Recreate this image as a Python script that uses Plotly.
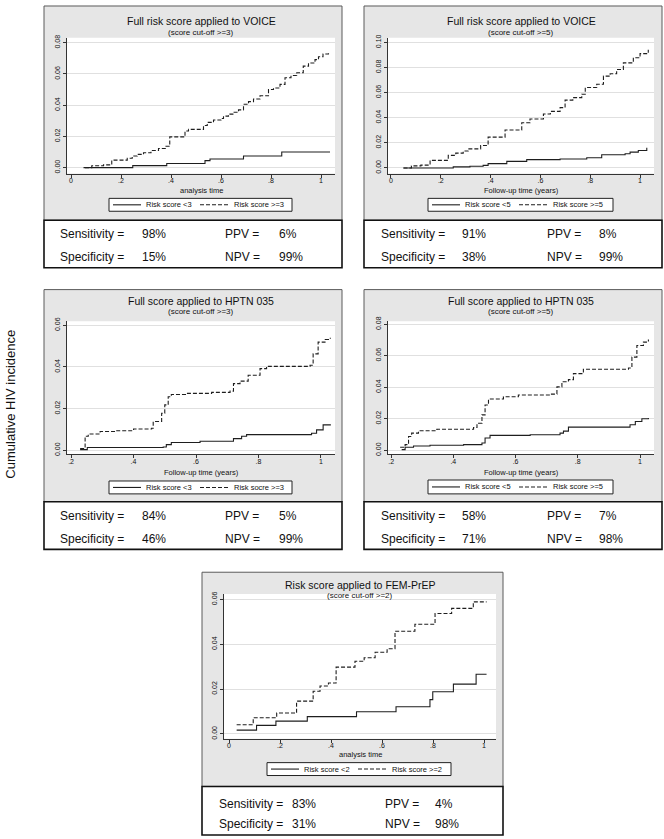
import plotly.graph_objects as go

# ---------------- data ----------------
# Panel 1: Full risk score applied to VOICE (cut-off >=3)
voice3_low_t = [0.05, 0.247, 0.383, 0.536, 0.556, 0.69, 0.843, 1.036]
voice3_low_v = [0.0, 0.0013, 0.0027, 0.0045, 0.0055, 0.0075, 0.0100, 0.0100]
voice3_high_t = [0.056, 0.083, 0.13, 0.163, 0.225, 0.245, 0.265, 0.29, 0.32, 0.35, 0.38, 0.395,
                 0.456, 0.47, 0.53, 0.545, 0.57, 0.6, 0.61, 0.63, 0.65, 0.67, 0.69, 0.71, 0.73,
                 0.756, 0.79, 0.81, 0.836, 0.856, 0.88, 0.903, 0.929, 0.95, 0.976, 0.99, 1.008, 1.03]
voice3_high_v = [0.0, 0.0012, 0.0018, 0.0048, 0.0060, 0.0075, 0.0085, 0.0095, 0.0110, 0.0123, 0.0137, 0.0197,
                 0.0235, 0.0245, 0.0270, 0.0290, 0.0305, 0.0315, 0.0330, 0.0343, 0.0355, 0.0370, 0.0406, 0.0423, 0.0440,
                 0.0460, 0.0500, 0.0510, 0.0533, 0.0576, 0.0590, 0.0608, 0.0650, 0.0670, 0.0692, 0.0710, 0.0728, 0.0740]

# Panel 2: Full risk score applied to VOICE (cut-off >=5)
voice5_low_t = [0.05, 0.25, 0.317, 0.37, 0.39, 0.465, 0.545, 0.679, 0.786, 0.846, 0.94, 0.96, 0.993, 1.027]
voice5_low_v = [0.0, 0.0008, 0.0013, 0.002, 0.0034, 0.0052, 0.0066, 0.0071, 0.0081, 0.0105, 0.0113, 0.0126, 0.0139, 0.016]
voice5_high_t = [0.05, 0.082, 0.12, 0.157, 0.23, 0.26, 0.29, 0.31, 0.36, 0.39, 0.458, 0.525, 0.558, 0.612,
                 0.64, 0.679, 0.699, 0.73, 0.766, 0.78, 0.826, 0.853, 0.88, 0.906, 0.933, 0.973, 1.0, 1.033]
voice5_high_v = [0.0, 0.0016, 0.0022, 0.006, 0.010, 0.0118, 0.0135, 0.0152, 0.0179, 0.0245, 0.0302, 0.036, 0.039, 0.0429,
                 0.045, 0.048, 0.054, 0.056, 0.0587, 0.064, 0.0666, 0.0731, 0.075, 0.0784, 0.0837, 0.0877, 0.091, 0.0942]

# Panel 3: Full score applied to HPTN 035 (cut-off >=3)
hptn3_low_t = [0.229, 0.252, 0.495, 0.505, 0.521, 0.613, 0.72, 0.746, 0.762, 0.97, 0.986, 1.007, 1.03]
hptn3_low_v = [0.0003, 0.0013, 0.0016, 0.0027, 0.0037, 0.0043, 0.0056, 0.0067, 0.0075, 0.0082, 0.0098, 0.0122, 0.0125]
hptn3_high_t = [0.229, 0.245, 0.255, 0.293, 0.341, 0.4, 0.458, 0.463, 0.49, 0.5, 0.511, 0.521, 0.57, 0.65,
                0.709, 0.72, 0.741, 0.767, 0.805, 0.826, 0.965, 0.975, 0.991, 1.013, 1.03]
hptn3_high_v = [0.0008, 0.0067, 0.0078, 0.009, 0.0094, 0.0102, 0.0106, 0.0138, 0.0178, 0.0218, 0.0257, 0.0268, 0.0273, 0.0278,
                0.0284, 0.032, 0.0332, 0.036, 0.0392, 0.0403, 0.0408, 0.0463, 0.0519, 0.0532, 0.054]

# Panel 4: Full score applied to HPTN 035 (cut-off >=5)
hptn5_low_t = [0.234, 0.245, 0.272, 0.325, 0.433, 0.492, 0.502, 0.518, 0.647, 0.743, 0.754, 0.77, 0.968, 0.985, 1.006, 1.027]
hptn5_low_v = [0.0004, 0.0019, 0.0027, 0.0032, 0.0036, 0.0046, 0.0078, 0.0095, 0.0099, 0.0109, 0.0122, 0.0147, 0.0162, 0.0183, 0.02, 0.0205]
hptn5_high_t = [0.229, 0.245, 0.256, 0.266, 0.288, 0.347, 0.465, 0.476, 0.492, 0.502, 0.513, 0.561, 0.609, 0.711,
                0.733, 0.749, 0.77, 0.786, 0.818, 0.963, 0.974, 0.99, 1.011, 1.027]
hptn5_high_v = [0.0019, 0.0036, 0.0088, 0.0109, 0.0124, 0.0134, 0.0145, 0.0172, 0.0225, 0.0288, 0.0326, 0.034, 0.0351, 0.0357,
                0.0403, 0.0435, 0.0449, 0.0487, 0.0515, 0.0523, 0.0592, 0.0666, 0.0687, 0.0704]

# Panel 5: Risk score applied to FEM-PrEP (cut-off >=2)
fem2_low_t = [0.03, 0.108, 0.184, 0.307, 0.5, 0.655, 0.788, 0.799, 0.88, 0.969, 1.01]
fem2_low_v = [0.0017, 0.0038, 0.0057, 0.0077, 0.0099, 0.0121, 0.0153, 0.0188, 0.0222, 0.0266, 0.0266]
fem2_high_t = [0.03, 0.095, 0.187, 0.265, 0.33, 0.357, 0.39, 0.42, 0.494, 0.53, 0.573, 0.62, 0.651, 0.729,
               0.808, 0.873, 0.958, 1.01]
fem2_high_v = [0.0041, 0.0072, 0.0093, 0.0146, 0.019, 0.0214, 0.0227, 0.0298, 0.0324, 0.034, 0.0364, 0.038, 0.0458, 0.0489,
               0.0537, 0.056, 0.0589, 0.0589]

titles = ["Full risk score applied to VOICE", "Full risk score applied to VOICE",
          "Full score applied to HPTN 035", "Full score applied to HPTN 035",
          "Risk score applied to FEM-PrEP"]
subtitles = ["(score cut-off >=3)", "(score cut-off >=5)", "(score cut-off >=3)",
             "(score cut-off >=5)", "(score cut-off >=2)"]
xlabels = ["analysis time", "Follow-up time (years)", "Follow-up time (years)",
           "Follow-up time (years)", "analysis time"]
legend_low = ["Risk score <3", "Risk score <5", "Risk score <3", "Risk score <5", "Risk score <2"]
legend_high = ["Risk score >=3", "Risk score >=5", "Risk socre >=3", "Risk score >=5", "Risk score >=2"]
sensitivity = ["98%", "91%", "84%", "58%", "83%"]
ppv = ["6%", "8%", "5%", "7%", "4%"]
specificity = ["15%", "38%", "46%", "71%", "31%"]
npv = ["99%", "99%", "99%", "98%", "98%"]

xt_from0 = [0, 0.2, 0.4, 0.6, 0.8, 1]
xt_from0_text = ["0", ".2", ".4", ".6", ".8", "1"]
xt_from2 = [0.2, 0.4, 0.6, 0.8, 1]
xt_from2_text = [".2", ".4", ".6", ".8", "1"]
yt_08 = [0, 0.02, 0.04, 0.06, 0.08]
yt_10 = [0, 0.02, 0.04, 0.06, 0.08, 0.10]
yt_06 = [0, 0.02, 0.04, 0.06]

y_title = "Cumulative HIV incidence"

# ---------------- layout geometry (pixels) ----------------
W, H = 664, 839
FONT = "Liberation Sans, Arial, sans-serif"


def fx(x):
    return x / W


def fy(y):
    return 1 - y / H


panels = [
    dict(low=(voice3_low_t, voice3_low_v), high=(voice3_high_t, voice3_high_v),
         box=(44, 342, 1, 217, 265), plot=(67, 335, 33, 170),
         xr=[-0.016, 1.056], yr=[-0.0038, 0.0832], xt=(xt_from0, xt_from0_text), yt=yt_08,
         title_y=(16, 28), xlab_y=187, leg=(109, 292, 195, 208),
         stats_x=(14, 96, 179, 233), stats_y=(231, 254)),
    dict(low=(voice5_low_t, voice5_low_v), high=(voice5_high_t, voice5_high_v),
         box=(364, 662, 1, 217, 265), plot=(388, 654, 33, 170),
         xr=[-0.012, 1.056], yr=[-0.0045, 0.1037], xt=(xt_from0, xt_from0_text), yt=yt_10,
         title_y=(16, 28), xlab_y=187, leg=(428, 613, 195, 208),
         stats_x=(15, 96, 181, 233), stats_y=(231, 254)),
    dict(low=(hptn3_low_t, hptn3_low_v), high=(hptn3_high_t, hptn3_high_v),
         box=(44, 342, 287, 501, 549), plot=(67, 335, 319, 453),
         xr=[0.187, 1.045], yr=[-0.0019, 0.0619], xt=(xt_from2, xt_from2_text), yt=yt_06,
         title_y=(298, 309), xlab_y=471, leg=(109, 292, 480, 493),
         stats_x=(14, 96, 179, 233), stats_y=(515, 538)),
    dict(low=(hptn5_low_t, hptn5_low_v), high=(hptn5_high_t, hptn5_high_v),
         box=(364, 662, 287, 501, 549), plot=(388, 654, 319, 453),
         xr=[0.19, 1.045], yr=[-0.0025, 0.0819], xt=(xt_from2, xt_from2_text), yt=yt_08,
         title_y=(298, 309), xlab_y=471, leg=(428, 613, 479, 493),
         stats_x=(15, 96, 181, 233), stats_y=(515, 538)),
    dict(low=(fem2_low_t, fem2_low_v), high=(fem2_high_t, fem2_high_v),
         box=(202, 503, 572, 788, 837), plot=(224, 496, 594, 740),
         xr=[-0.0196, 1.047], yr=[-0.0022, 0.0624], xt=(xt_from0, xt_from0_text), yt=yt_06,
         title_y=(585, 595), xlab_y=756, leg=(267, 451, 764, 777),
         stats_x=(15, 88, 181, 231), stats_y=(806, 826)),
]

fig = go.Figure()
shapes = []
annotations = []
layout_axes = {}

LINE_COL = "#1e1e1e"
GRAY = "#e6e6e6"

for i, p in enumerate(panels):
    n = i + 1
    xa = "x" if n == 1 else f"x{n}"
    ya = "y" if n == 1 else f"y{n}"
    xkey = "xaxis" if n == 1 else f"xaxis{n}"
    ykey = "yaxis" if n == 1 else f"yaxis{n}"
    bl, br, bt, bm, bb = p["box"]
    pl, pr, pt, pb = p["plot"]

    # gray graph region and white stats box
    shapes.append(dict(type="rect", xref="paper", yref="paper", layer="below",
                       x0=fx(bl), x1=fx(br), y0=fy(bm), y1=fy(bt),
                       fillcolor=GRAY, line=dict(color="#5a5a5a", width=1)))
    shapes.append(dict(type="rect", xref="paper", yref="paper", layer="below",
                       x0=fx(bl), x1=fx(br), y0=fy(bb), y1=fy(bm),
                       fillcolor="white", line=dict(color="#111111", width=1.6)))
    # white plot region
    shapes.append(dict(type="rect", xref="paper", yref="paper", layer="below",
                       x0=fx(pl), x1=fx(pr), y0=fy(pb), y1=fy(pt),
                       fillcolor="white", line=dict(width=0)))

    # curves
    for (tt, vv), dash in ((p["low"], "solid"), (p["high"], "4px,2px")):
        fig.add_trace(go.Scatter(x=tt, y=vv, mode="lines", xaxis=xa, yaxis=ya,
                                 line=dict(shape="hv", color=LINE_COL, width=1.1, dash=dash),
                                 showlegend=False, hoverinfo="skip"))

    layout_axes[xkey] = dict(domain=[fx(pl), fx(pr)], anchor=ya, range=p["xr"],
                             tickvals=p["xt"][0], ticktext=p["xt"][1],
                             ticks="outside", ticklen=3, tickcolor="#333", tickwidth=1,
                             ticklabelstandoff=-3,
                             showline=True, linecolor="#333", linewidth=1,
                             showgrid=False, zeroline=False,
                             tickfont=dict(size=7, family=FONT, color="#111"))
    layout_axes[ykey] = dict(domain=[fy(pb), fy(pt)], anchor=xa, range=p["yr"],
                             tickvals=p["yt"], ticktext=[f"{v:.2f}" for v in p["yt"]],
                             tickangle=-90, ticks="outside", ticklen=3, tickcolor="#333", tickwidth=1,
                             showline=True, linecolor="#333", linewidth=1,
                             showgrid=True, gridcolor="#e0e0e0", gridwidth=1, zeroline=False,
                             tickfont=dict(size=7, family=FONT, color="#111"))

    cx = (pl + pr) / 2
    annotations.append(dict(text=titles[i], x=fx(cx), y=fy(p["title_y"][0]), xref="paper", yref="paper",
                            showarrow=False, xanchor="center", yanchor="middle",
                            font=dict(size=10.5, family=FONT, color="#111")))
    annotations.append(dict(text=subtitles[i], x=fx(cx), y=fy(p["title_y"][1]), xref="paper", yref="paper",
                            showarrow=False, xanchor="center", yanchor="middle",
                            font=dict(size=8, family=FONT, color="#111")))
    annotations.append(dict(text=xlabels[i], x=fx(cx), y=fy(p["xlab_y"]), xref="paper", yref="paper",
                            showarrow=False, xanchor="center", yanchor="middle",
                            font=dict(size=7.5, family=FONT, color="#111")))

    # legend box
    ll, lr, lt, lb = p["leg"]
    lm = (lt + lb) / 2
    shapes.append(dict(type="rect", xref="paper", yref="paper", layer="above",
                       x0=fx(ll), x1=fx(lr), y0=fy(lb), y1=fy(lt),
                       fillcolor="white", line=dict(color="#222", width=1)))
    shapes.append(dict(type="line", xref="paper", yref="paper", layer="above",
                       x0=fx(ll + 4), x1=fx(ll + 32), y0=fy(lm), y1=fy(lm),
                       line=dict(color=LINE_COL, width=1.1)))
    shapes.append(dict(type="line", xref="paper", yref="paper", layer="above",
                       x0=fx(ll + 91), x1=fx(ll + 120), y0=fy(lm), y1=fy(lm),
                       line=dict(color=LINE_COL, width=1.1, dash="4px,2px")))
    annotations.append(dict(text=legend_low[i], x=fx(ll + 35), y=fy(lm), xref="paper", yref="paper",
                            showarrow=False, xanchor="left", yanchor="middle",
                            font=dict(size=7.5, family=FONT, color="#111")))
    annotations.append(dict(text=legend_high[i], x=fx(ll + 123), y=fy(lm), xref="paper", yref="paper",
                            showarrow=False, xanchor="left", yanchor="middle",
                            font=dict(size=7.5, family=FONT, color="#111")))

    # stats
    sx = p["stats_x"]
    sy = p["stats_y"]
    rows = [("Sensitivity =", sensitivity[i], "PPV =", ppv[i]),
            ("Specificity =", specificity[i], "NPV =", npv[i])]
    for r, row in enumerate(rows):
        for c, txt in enumerate(row):
            annotations.append(dict(text=txt, x=fx(bl + sx[c]), y=fy(sy[r]), xref="paper", yref="paper",
                                    showarrow=False, xanchor="left", yanchor="middle",
                                    font=dict(size=12, family=FONT, color="#111")))

annotations.append(dict(text=y_title, x=fx(11), y=fy(403), xref="paper", yref="paper",
                        showarrow=False, textangle=-90, xanchor="center", yanchor="middle",
                        font=dict(size=13, family=FONT, color="#111")))

fig.update_layout(width=W, height=H, margin=dict(l=0, r=0, t=0, b=0),
                  paper_bgcolor="white", plot_bgcolor="white",
                  shapes=shapes, annotations=annotations, showlegend=False,
                  **layout_axes)

fig.write_html("out.html", config={"displayModeBar": False},
               post_script="document.body.style.margin='0';document.body.style.overflow='hidden';")
